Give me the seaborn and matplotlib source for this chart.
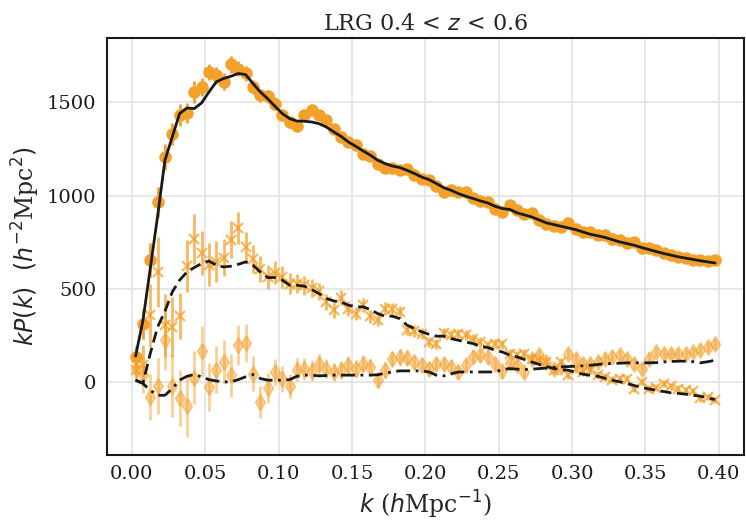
import numpy as np
import seaborn as sns
import matplotlib
matplotlib.use('Agg')
import matplotlib.pyplot as plt

# k bin centres (h/Mpc)
k = 0.0025 + 0.005 * np.arange(80)

# monopole data / error / model
mono = [136, 311, 656, 966, 1208, 1329, 1431, 1444, 1556, 1583,
        1663, 1646, 1610, 1704, 1681, 1655, 1583, 1538, 1533, 1494,
        1431, 1395, 1372, 1431, 1458, 1431, 1404, 1360, 1315, 1288,
        1270, 1226, 1211, 1172, 1151, 1151, 1136, 1145, 1110, 1092,
        1083, 1051, 1020, 1029, 1020, 1020, 985, 971, 966, 931,
        913, 949, 922, 900, 908, 868, 850, 836, 832, 854,
        824, 806, 806, 788, 788, 770, 761, 747, 752, 722,
        717, 708, 693, 681, 672, 668, 654, 654, 650, 654]
mono_err = [60, 80, 90, 80, 70, 60, 60, 55, 58, 50,
            45, 45, 45, 45, 40, 40, 38, 36, 35, 34,
            32, 31, 30, 29, 28, 27, 26, 26, 25, 25,
            24, 24, 23, 23, 22, 22, 21, 21, 20, 20,
            20, 19, 19, 19, 18, 18, 18, 18, 17, 17,
            17, 17, 16, 16, 16, 16, 16, 16, 15, 15,
            15, 15, 15, 15, 15, 14, 14, 14, 14, 14,
            14, 14, 14, 14, 14, 13, 13, 13, 13, 13]
mono_model = [140, 330, 610, 890, 1190, 1315, 1440, 1470, 1467, 1497,
              1556, 1610, 1628, 1640, 1655, 1649, 1601, 1556, 1520, 1479,
              1440, 1413, 1400, 1399, 1395, 1386, 1368, 1342, 1318, 1288,
              1265, 1240, 1217, 1190, 1172, 1159, 1151, 1136, 1119, 1100,
              1086, 1065, 1043, 1029, 1011, 997, 985, 972, 961, 943,
              931, 926, 908, 897, 886, 870, 854, 845, 836, 827,
              818, 805, 793, 785, 776, 764, 752, 743, 734, 722,
              711, 700, 690, 681, 672, 665, 658, 651, 645, 639]

# quadrupole
quad = [64, 91, 359, 591, 305, 296, 355, 625, 768, 693,
        630, 645, 668, 765, 827, 725, 658, 609, 564, 586,
        564, 529, 529, 520, 506, 488, 430, 386, 454, 395,
        368, 413, 354, 336, 395, 395, 377, 282, 275, 261,
        216, 204, 264, 252, 261, 252, 234, 216, 198, 207,
        203, 154, 145, 154, 127, 118, 109, 64, 109, 38,
        73, 55, 64, 38, 29, 14, 20, 20, -34, 2,
        -34, -29, -7, -21, -34, -43, -47, -87, -79, -96]
quad_err = [60, 110, 170, 190, 170, 160, 125, 140, 134, 120,
            115, 110, 100, 100, 85, 80, 75, 70, 65, 62,
            60, 56, 53, 50, 48, 45, 43, 42, 40, 38,
            37, 36, 35, 34, 33, 32, 31, 30, 30, 29,
            28, 28, 27, 27, 26, 26, 25, 25, 25, 24,
            24, 24, 23, 23, 23, 22, 22, 22, 22, 21,
            21, 21, 21, 20, 20, 20, 20, 20, 19, 19,
            19, 19, 19, 18, 18, 18, 18, 18, 18, 18]
quad_model = [11, -5, 154, 296, 380, 484, 547, 591, 615, 636,
              650, 627, 618, 622, 632, 645, 627, 591, 561, 561,
              547, 520, 520, 515, 497, 475, 449, 436, 430, 413,
              404, 404, 390, 368, 354, 354, 341, 306, 288, 270,
              257, 247, 247, 234, 225, 216, 207, 193, 186, 172,
              162, 145, 136, 122, 108, 96, 84, 73, 68, 64,
              53, 43, 37, 32, 21, 11, 2, -7, -18, -29,
              -36, -43, -50, -57, -60, -64, -70, -75, -84, -93]

# hexadecapole
hexa = [73, 40, -80, -18, 225, -18, -87, -129, 25, 165,
        -25, 68, 109, 38, 198, 211, 46, -105, -29, 55,
        18, -20, 66, 70, 62, 96, 73, 55, 64, 91,
        73, 100, 82, 11, 64, 127, 136, 132, 109, 91,
        73, 100, 100, 82, 55, 91, 136, 145, 136, 100,
        58, 105, 91, 55, 127, 145, 109, 73, 82, 154,
        127, 100, 100, 109, 127, 136, 145, 127, 100, 73,
        127, 162, 154, 154, 154, 154, 162, 175, 189, 207]
hexa_err = [50, 100, 125, 150, 160, 170, 150, 165, 140, 135,
            130, 125, 120, 115, 107, 100, 95, 85, 80, 70,
            68, 65, 62, 60, 57, 54, 52, 50, 49, 48,
            47, 46, 45, 44, 43, 42, 41, 40, 39, 38,
            37, 37, 36, 36, 35, 35, 35, 34, 34, 34,
            33, 33, 33, 32, 32, 32, 32, 31, 31, 31,
            31, 30, 30, 30, 30, 30, 30, 29, 29, 29,
            29, 29, 29, 28, 28, 28, 28, 28, 28, 28]
hexa_model = [11, -7, -43, -70, -70, -34, 11, 32, 41, 29,
              14, 7, 2, 2, 14, 29, 41, 20, 11, 11,
              11, 14, 32, 38, 38, 34, 36, 38, 38, 38,
              38, 38, 38, 40, 48, 55, 61, 61, 61, 61,
              55, 38, 34, 45, 55, 55, 55, 55, 55, 55,
              68, 73, 70, 68, 70, 73, 76, 80, 82, 84,
              86, 88, 91, 95, 100, 100, 102, 104, 104, 104,
              104, 105, 109, 111, 113, 113, 110, 104, 110, 118]

sns.set_theme(style='white')
plt.rcParams['font.family'] = ['DejaVu Serif']
plt.rcParams['mathtext.fontset'] = 'dejavusans'

col = '#f4a12c'

fig, ax = plt.subplots(figsize=(7.46, 5.21), dpi=100)
fig.subplots_adjust(left=0.1434, right=0.997, bottom=0.1267, top=0.927)

ax.grid(True, color='#e3e3e3', lw=1.2)
ax.set_axisbelow(True)

ax.errorbar(k, mono, yerr=mono_err, fmt='o', color=col, ms=8, elinewidth=2,
            capsize=0, zorder=2)
ax.errorbar(k, quad, yerr=quad_err, fmt='x', color=col, ms=7, mew=1.6, elinewidth=2,
            capsize=0, alpha=0.75, zorder=2)
ax.errorbar(k, hexa, yerr=hexa_err, fmt='d', color=col, ms=8, elinewidth=2,
            capsize=0, alpha=0.5, zorder=2)

sns.lineplot(x=k, y=mono_model, color='k', lw=2, zorder=5, ax=ax)
sns.lineplot(x=k, y=quad_model, color='k', lw=2, ls='--', dashes=False, zorder=5, ax=ax)
sns.lineplot(x=k, y=hexa_model, color='k', lw=2, ls='-.', dashes=False, zorder=5, ax=ax)
ax.lines[-2].set_dashes([4, 2])
ax.lines[-1].set_dashes([5, 2, 1, 2])

ax.set_xlim(-0.017, 0.417)
ax.set_ylim(-390, 1845)
ax.set_xticks(np.arange(0, 0.41, 0.05))
ax.set_yticks([0, 500, 1000, 1500])

for s in ax.spines.values():
    s.set_color('k')
    s.set_linewidth(1.5)
ax.tick_params(direction='inout', length=8, width=1.5, labelsize=14, colors='k')

ax.set_xlabel(r'$k$ ($h$Mpc$^{-1}$)', fontsize=17)
ax.set_ylabel(r'$kP(k)\ \ (h^{-2}$Mpc$^2)$', fontsize=17)
ax.set_title(r'LRG 0.4 < $z$ < 0.6', fontsize=16)

fig.savefig('out.png', dpi=100)
